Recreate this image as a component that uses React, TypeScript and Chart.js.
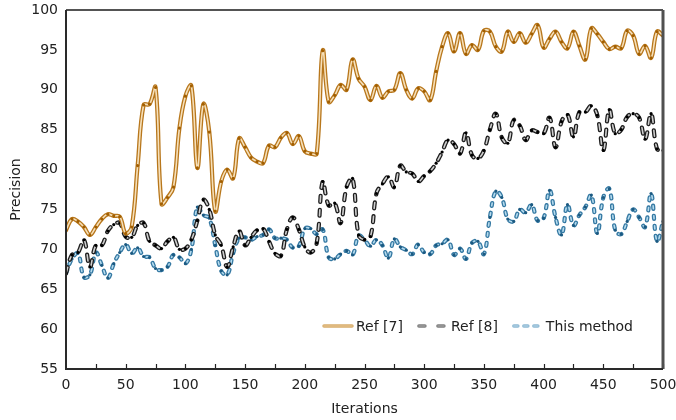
import { useEffect, useRef } from "react";
import { Chart, registerables } from "chart.js";

Chart.register(...registerables);

const ITERATIONS = [
  0, 5, 10, 15, 20, 25, 30, 35, 40, 45, 50, 55, 60, 65, 70, 75, 80, 85, 90, 95,
  100, 105, 110, 115, 120, 125, 130, 135, 140, 145, 150, 155, 160, 165, 170, 175, 180, 185, 190, 195,
  200, 205, 210, 215, 220, 225, 230, 235, 240, 245, 250, 255, 260, 265, 270, 275, 280, 285, 290, 295,
  300, 305, 310, 315, 320, 325, 330, 335, 340, 345, 350, 355, 360, 365, 370, 375, 380, 385, 390, 395,
  400, 405, 410, 415, 420, 425, 430, 435, 440, 445, 450, 455, 460, 465, 470, 475, 480, 485, 490, 495, 500,
];

const REF7 = [
  72.4, 73.8, 73.5, 72.8, 71.8, 72.8, 73.8, 74.4, 74.2, 74.1,
  72.0, 72.8, 80.5, 88.1, 88.2, 90.3, 75.7, 76.5, 77.8, 85.2,
  89.2, 90.5, 80.2, 88.2, 84.7, 74.8, 78.5, 80.0, 78.9, 83.9,
  82.8, 81.5, 81.0, 80.8, 83.0, 82.8, 84.0, 84.6, 83.2, 84.2,
  82.3, 82.0, 82.0, 94.9, 88.5, 89.3, 90.6, 90.0, 93.8, 91.4,
  90.4, 88.7, 90.5, 89.0, 89.8, 90.0, 92.1, 90.0, 88.9, 90.2,
  89.8, 88.7, 92.3, 95.4, 97.1, 94.8, 97.1, 94.5, 95.6, 95.0,
  97.4, 97.3, 95.4, 94.8, 97.3, 96.0, 97.1, 95.9, 97.0, 98.1,
  95.3, 96.4, 97.3, 96.0, 95.2, 97.3, 95.5, 93.8, 97.7, 97.0,
  96.0, 95.1, 95.4, 95.2, 97.4, 96.8, 94.5, 95.5, 94.0, 97.3,
  96.8,
];

const REF8 = [
  67.0, 69.3, 69.6, 71.2, 67.8, 70.5, 70.5, 72.3, 73.1, 73.3,
  71.6, 71.5, 73.0, 73.3, 71.0, 70.5, 70.1, 71.0, 71.5, 70.0,
  70.1, 71.2, 73.6, 76.2, 75.0, 71.8, 70.5, 67.8, 70.3, 72.3,
  70.5, 71.5, 72.4, 72.6, 71.0, 69.5, 69.2, 72.5, 74.0, 72.5,
  70.3, 69.6, 70.8, 78.5, 75.5, 75.8, 73.3, 77.8, 78.9, 71.8,
  71.2, 71.6, 77.0, 78.2, 79.1, 77.8, 80.5, 79.7, 79.5, 78.5,
  79.2, 79.8, 80.8, 82.2, 83.7, 83.2, 82.0, 84.6, 81.8, 81.4,
  82.4, 85.0, 87.0, 84.0, 83.3, 86.2, 85.5, 83.7, 84.9, 84.7,
  84.5, 86.5, 82.8, 86.0, 86.9, 84.1, 87.2, 87.2, 88.0, 86.8,
  82.4, 87.5, 84.5, 85.0, 86.6, 87.0, 86.5, 83.8, 87.0, 82.6,
  82.4,
];

const THIS_METHOD = [
  67.0, 68.8, 69.5, 66.5, 66.8, 69.6, 68.0, 66.4, 68.2, 69.6,
  70.6, 69.5, 70.2, 69.1, 69.0, 67.6, 67.4, 67.8, 69.3, 69.0,
  68.2, 70.0, 75.3, 74.3, 73.9, 70.5, 67.3, 66.8, 69.5, 71.4,
  71.5, 71.2, 71.6, 71.8, 72.5, 71.4, 71.4, 71.2, 70.2, 70.4,
  72.6, 72.6, 71.9, 72.5, 69.0, 68.8, 69.4, 69.8, 69.3, 71.7,
  71.2, 70.4, 71.2, 70.5, 68.9, 71.3, 70.3, 69.9, 69.4, 70.6,
  69.6, 69.4, 70.5, 70.7, 71.2, 69.3, 70.1, 68.8, 70.8, 71.0,
  69.4, 74.0, 77.3, 76.5, 73.8, 73.5, 75.0, 74.6, 75.6, 73.6,
  73.9, 77.4, 74.0, 71.8, 75.6, 73.0, 74.3, 75.3, 76.8, 72.0,
  76.5, 77.6, 72.4, 71.9, 73.5, 75.0, 74.0, 72.8, 77.0, 71.0,
  73.5,
];

const SERIES_NAMES = ["Ref [7]", "Ref [8]", "This method"];
const X_TICK_STEP = 50;
const X_MINOR_STEP = 25;
const Y_TICK_STEP = 5;

const FONT = "DejaVu Sans";

type Style = {
  outer: string;
  inner: string;
  dot: string;
  dash: number[];
  legendOuter: string;
  legendInner: string;
  legendDash: number[];
};

const STYLES: Style[] = [
  {
    outer: "#b8771c",
    inner: "#f6e0ba",
    dot: "#a35f00",
    dash: [],
    legendOuter: "#d8ad6c",
    legendInner: "#e2bd84",
    legendDash: [],
  },
  {
    outer: "#1e1e1e",
    inner: "#cfcfcf",
    dot: "#000000",
    dash: [6, 8],
    legendOuter: "#7d7d7d",
    legendInner: "#9a9a9a",
    legendDash: [6, 13],
  },
  {
    outer: "#3579a3",
    inner: "#b6dbee",
    dot: "#1b5a82",
    dash: [3, 7],
    legendOuter: "#8db8d3",
    legendInner: "#a9cbe0",
    legendDash: [4, 6],
  },
];

const frameAndLegend = {
  id: "frameAndLegend",
  afterDatasetsDraw(chart: any) {
    const { ctx, chartArea } = chart;
    const { left, right, top, bottom } = chartArea;
    const xScale = chart.scales.x;
    ctx.save();
    // minor inward ticks on bottom axis
    ctx.strokeStyle = "#222";
    ctx.lineWidth = 1.2;
    for (let v = X_MINOR_STEP; v <= 500; v += X_MINOR_STEP) {
      const px = Math.round(xScale.getPixelForValue(v)) + 0.5;
      ctx.beginPath();
      ctx.moveTo(px, bottom);
      ctx.lineTo(px, bottom - 5);
      ctx.stroke();
    }
    // frame
    ctx.lineCap = "butt";
    ctx.strokeStyle = "#1a1a1a";
    ctx.lineWidth = 1.5;
    ctx.beginPath();
    ctx.moveTo(left, top);
    ctx.lineTo(right, top);
    ctx.stroke();
    ctx.strokeStyle = "#505050";
    ctx.lineWidth = 3;
    ctx.beginPath();
    ctx.moveTo(right, top);
    ctx.lineTo(right, bottom);
    ctx.stroke();
    ctx.strokeStyle = "#2a2a2a";
    ctx.lineWidth = 2;
    ctx.beginPath();
    ctx.moveTo(left, top);
    ctx.lineTo(left, bottom);
    ctx.stroke();
    ctx.beginPath();
    ctx.moveTo(left - 1, bottom);
    ctx.lineTo(right, bottom);
    ctx.stroke();

    // legend inside plot, bottom right
    ctx.font = `14px "${FONT}"`;
    ctx.textBaseline = "middle";
    ctx.textAlign = "left";
    const ly = bottom - 43;
    let x = left + 256;
    SERIES_NAMES.forEach((name, i) => {
      const st = STYLES[i];
      ctx.lineCap = "round";
      ctx.setLineDash(st.legendDash);
      ctx.strokeStyle = st.legendOuter;
      ctx.lineWidth = 3.5;
      ctx.beginPath();
      ctx.moveTo(x + 2, ly);
      ctx.lineTo(x + 30, ly);
      ctx.stroke();
      ctx.strokeStyle = st.legendInner;
      ctx.lineWidth = 1.5;
      ctx.beginPath();
      ctx.moveTo(x + 2, ly);
      ctx.lineTo(x + 30, ly);
      ctx.stroke();
      ctx.setLineDash([]);
      x += 34;
      ctx.fillStyle = "#222";
      ctx.fillText(name, x, ly + 1);
      x += ctx.measureText(name).width + 14;
    });
    ctx.restore();
  },
};

export default function App() {
  const ref = useRef<HTMLCanvasElement | null>(null);

  useEffect(() => {
    if (!ref.current) return;
    const seriesValues = [REF7, REF8, THIS_METHOD];
    const datasets: any[] = [];
    seriesValues.forEach((vals, i) => {
      const st = STYLES[i];
      const data = ITERATIONS.map((it, k) => ({ x: it, y: vals[k] }));
      datasets.push({
        label: SERIES_NAMES[i],
        data,
        borderColor: st.inner,
        borderWidth: 1.6,
        borderDash: st.dash,
        borderCapStyle: "round",
        borderJoinStyle: "round",
        pointRadius: 1.6,
        pointBackgroundColor: st.dot,
        pointBorderWidth: 0,
        tension: 0.4,
        fill: false,
        order: i * 2,
      });
      datasets.push({
        label: SERIES_NAMES[i] + " outline",
        data,
        borderColor: st.outer,
        borderWidth: 4.2,
        borderDash: st.dash,
        borderCapStyle: "round",
        borderJoinStyle: "round",
        pointRadius: 0,
        tension: 0.4,
        fill: false,
        order: i * 2 + 1,
      });
    });

    Chart.defaults.font.family = FONT;
    Chart.defaults.font.size = 14;
    Chart.defaults.color = "#222";

    const chart = new Chart(ref.current, {
      type: "line",
      data: { datasets },
      options: {
        responsive: false,
        animation: false,
        layout: { padding: { top: 10, right: 13, left: 0, bottom: 0 } },
        plugins: {
          legend: { display: false },
          tooltip: { enabled: false },
        },
        scales: {
          x: {
            type: "linear",
            min: 0,
            max: 500,
            ticks: { stepSize: X_TICK_STEP, padding: 8, color: "#222", font: { size: 14 } },
            grid: { display: false, drawTicks: false },
            border: { display: false },
            title: { display: true, text: "Iterations", color: "#222", font: { size: 14 }, padding: { top: 0, bottom: 2 } },
            afterFit: (s: any) => {
              s.height = 51;
              s.paddingLeft = 0;
              s.paddingRight = 0;
            },
          },
          y: {
            type: "linear",
            min: 55,
            max: 100,
            ticks: { stepSize: Y_TICK_STEP, padding: 8, color: "#222", font: { size: 14 } },
            grid: { display: false, drawTicks: false },
            border: { display: false },
            title: { display: true, text: "Precision", color: "#222", font: { size: 14 }, padding: { top: 8, bottom: 0 } },
            afterFit: (s: any) => {
              s.width = 66;
              s.paddingTop = 0;
              s.paddingBottom = 0;
            },
          },
        },
      },
      plugins: [frameAndLegend],
    });
    return () => chart.destroy();
  }, []);

  return (
    <div style={{ position: "fixed", left: 0, top: 0, width: 676, height: 420, background: "#fff" }}>
      <canvas ref={ref} width={676} height={420} style={{ display: "block" }} />
    </div>
  );
}
